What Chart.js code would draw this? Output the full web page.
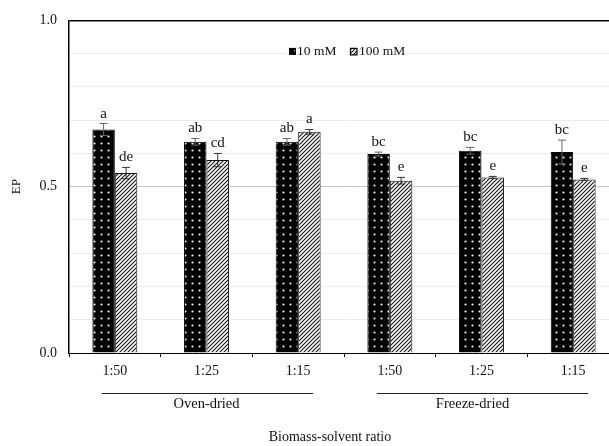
<!DOCTYPE html>
<html>
<head>
<meta charset="utf-8">
<script src="https://cdn.jsdelivr.net/npm/chart.js@4/dist/chart.umd.min.js"></script>
<style>
  html, body { margin: 0; padding: 0; background: #fff; overflow: hidden; width: 609px; height: 446px; }
  canvas { display: block; }
</style>
</head>
<body>
<canvas id="c" width="630" height="446"></canvas>
<script>
// ---- data ----
const categories = ['1:50', '1:25', '1:15', '1:50', '1:25', '1:15'];
const groups = ['Oven-dried', 'Freeze-dried'];
const groupRanges = [[0, 2], [3, 5]];
const seriesNames = ['10 mM', '100 mM'];
const ep10 = [0.672, 0.635, 0.635, 0.598, 0.608, 0.604];
const err10 = [0.018, 0.010, 0.010, 0.006, 0.010, 0.036];
const ep100 = [0.541, 0.580, 0.665, 0.518, 0.528, 0.522];
const err100 = [0.017, 0.020, 0.007, 0.010, 0.003, 0.003];
const letters10 = ['a', 'ab', 'ab', 'bc', 'bc', 'bc'];
const letters100 = ['de', 'cd', 'a', 'e', 'e', 'e'];
const yLabelTicks = [0.0, 0.5, 1.0];
const yTitle = 'EP';
const xTitle = 'Biomass-solvent ratio';

const SERIF = '"Liberation Serif", "Times New Roman", serif';

// ---- patterns ----
function dotPattern() {
  const c = document.createElement('canvas');
  c.width = 7; c.height = 7;
  const g = c.getContext('2d');
  g.fillStyle = '#000'; g.fillRect(0, 0, 7, 7);
  g.fillStyle = '#f4f4f4';
  g.beginPath(); g.arc(3.5, 3.5, 1.1, 0, Math.PI * 2); g.fill();
  return g.createPattern(c, 'repeat');
}
function hatchPattern() {
  const s = 4;
  const c = document.createElement('canvas');
  c.width = s; c.height = s;
  const g = c.getContext('2d');
  g.fillStyle = '#fff'; g.fillRect(0, 0, s, s);
  g.strokeStyle = '#1a1a1a'; g.lineWidth = 1.2;
  g.beginPath();
  g.moveTo(-1, s + 1); g.lineTo(s + 1, -1);
  g.moveTo(-1, 1); g.lineTo(1, -1);
  g.moveTo(s - 1, s + 1); g.lineTo(s + 1, s - 1);
  g.stroke();
  return g.createPattern(c, 'repeat');
}
const pDots = dotPattern();
const pHatch = hatchPattern();

// ---- plugins ----
const errorBars = {
  id: 'errorBars',
  afterDatasetsDraw(chart) {
    const ctx = chart.ctx;
    const y = chart.scales.y;
    const errs = [err10, err100];
    const vals = [ep10, ep100];
    const lets = [letters10, letters100];
    ctx.save();
    for (let d = 0; d < 2; d++) {
      const meta = chart.getDatasetMeta(d);
      meta.data.forEach((bar, j) => {
        const x = bar.x;
        const top = y.getPixelForValue(vals[d][j] + errs[d][j]);
        const bot = y.getPixelForValue(vals[d][j] - errs[d][j]);
        ctx.strokeStyle = d === 0 ? '#666' : '#333';
        ctx.lineWidth = 1;
        ctx.beginPath();
        ctx.moveTo(x, top); ctx.lineTo(x, bot);
        ctx.moveTo(x - 4, top); ctx.lineTo(x + 4, top);
        ctx.moveTo(x - 4, bot); ctx.lineTo(x + 4, bot);
        ctx.stroke();
        ctx.fillStyle = '#111';
        ctx.font = '15px ' + SERIF;
        ctx.textAlign = 'center';
        ctx.textBaseline = 'alphabetic';
        ctx.fillText(lets[d][j], x, top - 6);
      });
    }
    ctx.restore();
  }
};

const extras = {
  id: 'extras',
  afterDraw(chart) {
    const ctx = chart.ctx;
    const xs = chart.scales.x;
    const area = chart.chartArea;
    ctx.save();
    // group lines and labels
    ctx.strokeStyle = '#222';
    ctx.lineWidth = 1;
    ctx.fillStyle = '#111';
    ctx.font = '14.5px ' + SERIF;
    ctx.textAlign = 'center';
    ctx.textBaseline = 'middle';
    const lineY = area.bottom + 40;
    const textOff = [0, -9];
    groupRanges.forEach((r, i) => {
      const x0 = xs.getPixelForValue(r[0]) - 13;
      const x1 = xs.getPixelForValue(r[1]) + 15;
      ctx.beginPath();
      ctx.moveTo(x0, lineY + 0.5); ctx.lineTo(x1, lineY + 0.5);
      ctx.stroke();
      const xm = xs.getPixelForValue((r[0] + r[1]) / 2) + textOff[i];
      ctx.fillText(groups[i], xm, lineY + 11);
    });
    // x axis title
    ctx.font = '14px ' + SERIF;
    ctx.fillText(xTitle, area.left + 261, area.bottom + 84);

    // legend inside plot
    const lx = area.left + 219, ly = area.top + 31;
    ctx.fillStyle = '#fff';
    ctx.fillRect(lx - 3, ly - 8, 118, 16);
    ctx.font = '13.5px ' + SERIF;
    ctx.textAlign = 'left';
    ctx.textBaseline = 'middle';
    // swatch 1
    ctx.fillStyle = '#000';
    ctx.fillRect(lx + 1, ly - 3.5, 7, 7);
    ctx.fillStyle = '#fff';
    ctx.fillRect(lx + 6, ly - 1, 1, 1);
    ctx.fillStyle = '#111';
    ctx.fillText(seriesNames[0], lx + 9, ly);
    // swatch 2
    const l2 = lx + 61;
    ctx.fillStyle = pHatch;
    ctx.fillRect(l2 + 1, ly - 3.5, 7, 7);
    ctx.strokeStyle = '#000';
    ctx.lineWidth = 1.2;
    ctx.strokeRect(l2 + 1.5, ly - 3, 6.5, 6.5);
    ctx.fillStyle = '#111';
    ctx.fillText(seriesNames[1], l2 + 10, ly);
    ctx.restore();
  }
};

new Chart(document.getElementById('c'), {
  type: 'bar',
  data: {
    labels: categories,
    datasets: [
      { label: seriesNames[0], data: ep10, backgroundColor: pDots, borderColor: '#000', borderWidth: 1,
        categoryPercentage: 0.49, barPercentage: 1.0 },
      { label: seriesNames[1], data: ep100, backgroundColor: pHatch, borderColor: '#111', borderWidth: 1,
        categoryPercentage: 0.49, barPercentage: 1.0 }
    ]
  },
  options: {
    responsive: false,
    animation: false,
    devicePixelRatio: 1,
    layout: { padding: { top: 20, right: 11, left: 0, bottom: 0 } },
    plugins: {
      legend: { display: false },
      tooltip: { enabled: false }
    },
    scales: {
      x: {
        afterFit(scale) { scale.height = 93; },
        grid: { display: true, drawOnChartArea: false, drawTicks: true, tickLength: 4, offset: true, color: '#000', tickColor: '#000' },
        border: { display: true, color: '#000', width: 1 },
        ticks: { color: '#111', font: { family: SERIF, size: 14 }, padding: 6, maxRotation: 0, autoSkip: false }
      },
      y: {
        min: 0, max: 1,
        afterFit(scale) { scale.width = 69; },
        grid: {
          drawTicks: false,
          color(ctx) {
            const v = Math.round(ctx.tick.value * 10);
            if (v === 10) return '#000';
            if (v === 5) return '#c4c4c4';
            return '#ebebeb';
          },
          lineWidth(ctx) { return Math.round(ctx.tick.value * 10) === 10 ? 1.5 : 1; }
        },
        border: { display: true, color: '#000', width: 1.5 },
        ticks: {
          stepSize: 0.1,
          padding: 12,
          color: '#111',
          font: { family: SERIF, size: 14 },
          callback(v) {
            const hit = yLabelTicks.find(t => Math.abs(t - v) < 1e-6);
            return hit === undefined ? '' : hit.toFixed(1);
          }
        },
        title: { display: true, text: yTitle, color: '#111', font: { family: SERIF, size: 13 }, padding: { top: 9, bottom: 4 } }
      }
    }
  },
  plugins: [errorBars, extras]
});
</script>
</body>
</html>
